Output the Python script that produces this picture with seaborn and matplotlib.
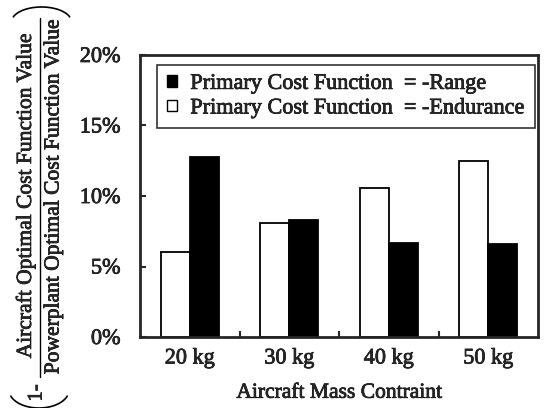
import matplotlib
matplotlib.use("Agg")
import numpy as np
import matplotlib.pyplot as plt
import matplotlib.patches as mpatches
import matplotlib.patheffects as pe
from matplotlib.lines import Line2D
from matplotlib.transforms import IdentityTransform
import seaborn as sns
import pandas as pd
from matplotlib.ticker import FuncFormatter, FixedLocator

# data (%)
masses = ["20 kg", "30 kg", "40 kg", "50 kg"]
endurance = [6.0, 8.1, 10.6, 12.5]
range_vals = [12.8, 8.3, 6.7, 6.6]
lab_range = "Primary Cost Function  = -Range"
lab_end = "Primary Cost Function  = -Endurance"

df = pd.DataFrame({
    "mass": masses * 2,
    "value": endurance + range_vals,
    "case": [lab_end] * 4 + [lab_range] * 4,
})

sns.set_style("ticks")
plt.rcParams["font.family"] = ["Liberation Serif", "DejaVu Serif"]

# slightly heavier text, like the scanned original
ink = [pe.withStroke(linewidth=0.5, foreground="black")]

W, H = 548, 408
fig = plt.figure(figsize=(W / 100, H / 100), dpi=100)
ax = fig.add_axes([140 / W, 1 - 337 / H, 398 / W, 282 / H])

sns.barplot(data=df, x="mass", y="value", hue="case",
            hue_order=[lab_end, lab_range],
            palette={lab_end: "white", lab_range: "black"},
            edgecolor="black", linewidth=1.3, width=0.58, ax=ax)

ax.set_ylim(0, 20)
ax.set_xlim(-0.5, 3.5)
ax.yaxis.set_major_locator(FixedLocator([0, 5, 10, 15, 20]))
ax.yaxis.set_major_formatter(FuncFormatter(lambda v, p: f"{v:.0f}%"))
ax.set_xticks([0.5, 1.5, 2.5], minor=True)
ax.tick_params(axis="x", which="major", length=0, pad=9, labelsize=16)
ax.tick_params(axis="x", which="minor", direction="in", length=4, width=1.5)
ax.tick_params(axis="y", direction="in", length=4, width=1.5, pad=14, labelsize=16)
for s in ax.spines.values():
    s.set_visible(True)
    s.set_linewidth(2)

ax.set_xlabel("Aircraft Mass Contraint", fontsize=15.5, labelpad=11)
ax.set_ylabel("")

handles = [mpatches.Patch(facecolor="black", edgecolor="black"),
           mpatches.Patch(facecolor="white", edgecolor="black")]
leg = ax.legend(handles, [lab_range, lab_end], loc="upper right",
                bbox_to_anchor=(0.992, 0.965), fontsize=16,
                frameon=True, fancybox=False, edgecolor="black",
                handlelength=0.45, handleheight=0.45, handletextpad=0.6,
                borderpad=0.45, labelspacing=0.25, borderaxespad=0)
leg.get_frame().set_linewidth(1.2)

# y label: ( 1- Aircraft.../Powerplant... ), placed in pixel coordinates
px = IdentityTransform()
fig.text(26 / W, 1 - 196 / H, "Aircraft Optimal Cost Function Value",
         rotation=90, ha="center", va="center", fontsize=15.5)
fig.text(54 / W, 1 - 197 / H, "Powerplant Optimal Cost Function Value",
         rotation=90, ha="center", va="center", fontsize=15.5)
fig.add_artist(Line2D([40, 40], [H - 377, H - 18], color="black", lw=1,
                      transform=px))
fig.text(37 / W, 1 - 393 / H, "1-", rotation=90, ha="center", va="center",
         fontsize=15)
t = np.radians(np.linspace(20, 160, 60))
fig.add_artist(Line2D(41.5 + 30 * np.cos(t), H - (22 - 15 * np.sin(t)),
                      color="black", lw=1.2, transform=px))
fig.add_artist(Line2D(39 + 30 * np.cos(t), H - (390 + 18 * np.sin(t)),
                      color="black", lw=1.2, transform=px))

for txt in fig.findobj(matplotlib.text.Text):
    txt.set_path_effects(ink)

fig.savefig("out.png", dpi=100)
